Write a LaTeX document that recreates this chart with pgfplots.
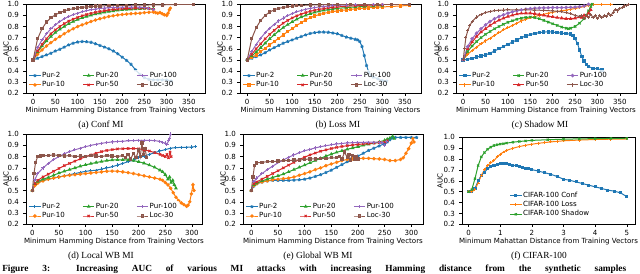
\documentclass[border=0pt]{standalone}
\usepackage{pgfplots}
\pgfplotsset{compat=1.18}
\usepackage{fontspec}
\setmainfont{DejaVu Sans}
\newfontfamily\tnr{Liberation Serif}
\definecolor{c1}{HTML}{1F77B4}
\definecolor{c2}{HTML}{FF7F0E}
\definecolor{c3}{HTML}{2CA02C}
\definecolor{c4}{HTML}{D62728}
\definecolor{c5}{HTML}{9467BD}
\definecolor{c6}{HTML}{8C564B}
\newcommand{\fs}{\fontsize{5.3}{6}\selectfont}
\pgfplotsset{
  panel/.style={
    scale only axis,
    anchor=south west,
    ymin=0.2, ymax=1.0,
    ytick={0.2,0.3,0.4,0.5,0.6,0.7,0.8,0.9,1.0},
    yticklabel style={/pgf/number format/fixed,/pgf/number format/fixed zerofill,/pgf/number format/precision=1},
    scaled ticks=false,
    /pgf/number format/assume math mode=true,
    tick label style={font=\fs},
    xticklabel style={yshift=1pt},
    label style={font=\fs},
    tick align=outside, tick pos=left,
    major tick length=1.9pt,
    every tick/.style={black, line width=0.4pt},
    axis line style={line width=0.4pt},
    xlabel={Minimum Hamming Distance from Training Vectors},
    xlabel style={yshift=5pt},
    every axis plot/.append style={line width=0.75pt, mark size=0.9pt},
    legend cell align=left,
    legend style={draw=none, fill=white, fill opacity=0.8, text opacity=1, font=\fs,
      anchor=south west, at={(rel axis cs:0.01,0.03)},
      inner sep=0.5pt, row sep=0pt,
      nodes={inner sep=0.8pt},
      /tikz/every even column/.append style={column sep=12.5pt}},
    legend image code/.code={\draw[mark repeat=2,mark phase=2,##1] plot coordinates {(0cm,0cm) (0.15cm,0cm) (0.3cm,0cm)};},
  },
  hamtop/.style={panel, width=#1, height=66.75pt, xmin=-16, xmax=386, xtick={0,50,...,350},
    legend columns=2, transpose legend},
}
\begin{document}
\begin{tikzpicture}
%% (a) Conf MI
\begin{axis}[hamtop=134.25pt, at={(19.5pt,134.8pt)}]
\addplot[c1, mark=star, mark size=1.2pt] coordinates {(0,0.5)(10,0.515)(20,0.53)(30,0.545)(40,0.56)(50,0.58)(60,0.595)(70,0.615)(80,0.635)(90,0.65)(100,0.66)(110,0.665)(120,0.663)(130,0.658)(140,0.645)(150,0.63)(160,0.615)(170,0.6)(180,0.58)(190,0.555)(200,0.525)(210,0.495)(220,0.46)(230,0.41)(240,0.37)(250,0.34)(260,0.325)(270,0.32)(280,0.32)(290,0.32)(300,0.32)(310,0.31)};
\addlegendentry{Pur-2}
\addplot[c2, mark=*] coordinates {(0,0.5)(10,0.55)(20,0.59)(30,0.625)(40,0.655)(50,0.685)(60,0.71)(70,0.735)(80,0.76)(90,0.78)(100,0.8)(110,0.815)(120,0.83)(130,0.845)(140,0.858)(150,0.87)(160,0.88)(170,0.89)(180,0.897)(190,0.903)(200,0.908)(210,0.912)(220,0.915)(230,0.918)(240,0.92)(250,0.925)(260,0.928)(270,0.93)(275,0.925)(280,0.92)(285,0.925)(290,0.915)(295,0.905)(300,0.9)(303,0.92)(306,0.95)(308,0.965)};
\addlegendentry{Pur-10}
\addplot[c3, mark=triangle*] coordinates {(0,0.5)(10,0.57)(20,0.625)(30,0.67)(40,0.71)(50,0.745)(60,0.775)(70,0.8)(80,0.825)(90,0.845)(100,0.862)(110,0.878)(120,0.89)(130,0.902)(140,0.912)(150,0.92)(160,0.928)(170,0.935)(180,0.94)(190,0.945)(200,0.95)(210,0.953)(220,0.956)(230,0.958)(240,0.96)(250,0.962)(260,0.963)(270,0.96)};
\addlegendentry{Pur-20}
\addplot[c4, mark=x, mark size=1.2pt] coordinates {(0,0.5)(10,0.58)(20,0.64)(30,0.69)(40,0.735)(50,0.77)(60,0.8)(70,0.826)(80,0.848)(90,0.866)(100,0.882)(110,0.896)(120,0.908)(130,0.918)(140,0.927)(150,0.935)(160,0.942)(170,0.948)(180,0.953)(190,0.957)(200,0.96)(210,0.962)(220,0.964)(230,0.965)(240,0.966)(250,0.965)(260,0.962)(270,0.955)};
\addlegendentry{Pur-50}
\addplot[c5, mark=+, mark size=1.2pt] coordinates {(0,0.5)(10,0.61)(20,0.68)(30,0.735)(40,0.78)(50,0.815)(60,0.845)(70,0.87)(80,0.89)(90,0.907)(100,0.92)(110,0.932)(120,0.942)(130,0.95)(140,0.957)(150,0.962)(160,0.966)(170,0.969)(180,0.971)(190,0.973)(200,0.974)(220,0.975)(240,0.974)(250,0.972)(260,0.965)(270,0.955)};
\addlegendentry{Pur-100}
\addplot[c6, mark=square*] coordinates {(0,0.5)(10,0.69)(20,0.78)(30,0.84)(40,0.88)(50,0.905)(60,0.925)(70,0.94)(80,0.952)(90,0.96)(100,0.967)(110,0.972)(120,0.976)(130,0.98)(140,0.983)(150,0.985)(170,0.988)(190,0.99)(210,0.99)(230,0.992)(250,0.993)(270,0.994)(290,0.995)(320,0.998)(360,1.0)};
\addlegendentry{Loc-30}
\end{axis}
%% (b) Loss MI
\begin{axis}[hamtop=135.75pt, at={(180pt,134.8pt)}]
\addplot[c1, mark=star, mark size=1.2pt] coordinates {(0,0.5)(10,0.515)(20,0.53)(30,0.545)(40,0.565)(50,0.59)(60,0.61)(70,0.63)(80,0.65)(90,0.665)(100,0.68)(110,0.695)(120,0.71)(130,0.725)(140,0.738)(150,0.745)(160,0.75)(170,0.75)(180,0.748)(190,0.742)(200,0.735)(210,0.72)(220,0.705)(230,0.695)(240,0.685)(245,0.68)(250,0.665)(255,0.62)(260,0.54)(265,0.45)(270,0.39)(275,0.36)(280,0.345)(290,0.33)(300,0.315)(310,0.31)};
\addlegendentry{Pur-2}
\addplot[c2, mark=square*] coordinates {(0,0.5)(10,0.52)(20,0.545)(30,0.575)(40,0.605)(50,0.635)(60,0.665)(70,0.695)(80,0.725)(90,0.755)(100,0.78)(110,0.81)(120,0.835)(130,0.86)(140,0.88)(150,0.895)(160,0.908)(170,0.918)(180,0.927)(190,0.934)(200,0.94)(210,0.945)(220,0.95)(230,0.954)(240,0.958)(250,0.962)(260,0.965)(270,0.968)(280,0.971)(290,0.974)(300,0.976)(320,0.98)(340,0.985)(360,0.99)};
\addlegendentry{Pur-10}
\addplot[c3, mark=triangle*] coordinates {(0,0.5)(10,0.535)(20,0.57)(30,0.61)(40,0.65)(50,0.69)(60,0.725)(70,0.76)(80,0.79)(90,0.817)(100,0.842)(110,0.865)(120,0.885)(130,0.9)(140,0.915)(150,0.927)(160,0.937)(170,0.945)(180,0.952)(190,0.958)(200,0.963)(220,0.97)(240,0.976)(260,0.98)(280,0.984)(300,0.988)};
\addlegendentry{Pur-20}
\addplot[c4, mark=x, mark size=1.2pt] coordinates {(0,0.5)(10,0.55)(20,0.6)(30,0.645)(40,0.69)(50,0.73)(60,0.765)(70,0.8)(80,0.83)(90,0.855)(100,0.877)(110,0.896)(120,0.912)(130,0.925)(140,0.937)(150,0.946)(160,0.954)(170,0.961)(180,0.967)(190,0.972)(200,0.976)(220,0.982)(240,0.987)(260,0.99)(280,0.993)(300,0.995)};
\addlegendentry{Pur-50}
\addplot[c5, mark=+, mark size=1.2pt] coordinates {(0,0.5)(10,0.575)(20,0.64)(30,0.695)(40,0.745)(50,0.785)(60,0.82)(70,0.85)(80,0.876)(90,0.898)(100,0.916)(110,0.932)(120,0.945)(130,0.955)(140,0.963)(150,0.97)(160,0.976)(170,0.98)(180,0.984)(190,0.987)(200,0.99)(220,0.993)(240,0.995)(260,0.997)(280,0.998)(300,0.999)};
\addlegendentry{Pur-100}
\addplot[c6, mark=square*] coordinates {(0,0.5)(10,0.69)(20,0.79)(30,0.855)(40,0.9)(50,0.93)(60,0.95)(70,0.963)(80,0.972)(90,0.978)(100,0.983)(110,0.987)(120,0.99)(140,0.993)(160,0.995)(180,0.997)(200,0.998)(230,0.999)(260,1.0)(290,1.0)(320,1.0)(360,1.0)};
\addlegendentry{Loc-30}
\end{axis}
%% (c) Shadow MI
\begin{axis}[hamtop=135pt, at={(342pt,134.8pt)}]
\addplot[c1, mark=square*] coordinates {(0,0.5)(10,0.505)(20,0.515)(30,0.525)(40,0.535)(50,0.545)(60,0.56)(70,0.58)(80,0.6)(90,0.62)(100,0.64)(110,0.66)(120,0.68)(130,0.7)(140,0.715)(150,0.728)(160,0.738)(170,0.745)(180,0.75)(190,0.752)(200,0.75)(210,0.745)(220,0.74)(230,0.736)(240,0.732)(245,0.72)(250,0.69)(255,0.65)(260,0.59)(265,0.53)(270,0.49)(275,0.46)(280,0.44)(290,0.425)(300,0.42)(310,0.41)};
\addlegendentry{Pur-2}
\addplot[c2, mark=+, mark size=1.2pt] coordinates {(0,0.5)(10,0.55)(20,0.585)(30,0.615)(40,0.645)(50,0.67)(60,0.695)(70,0.72)(80,0.745)(90,0.77)(100,0.79)(110,0.81)(120,0.83)(130,0.85)(140,0.865)(150,0.878)(160,0.89)(170,0.9)(180,0.91)(190,0.92)(200,0.928)(210,0.935)(220,0.942)(230,0.948)(240,0.955)(250,0.962)(260,0.97)(270,0.98)(280,0.99)(290,1.0)(310,1.0)(330,1.0)};
\addlegendentry{Pur-10}
\addplot[c3, mark=x, mark size=1.2pt] coordinates {(0,0.5)(10,0.575)(20,0.625)(30,0.665)(40,0.7)(50,0.73)(60,0.755)(70,0.78)(80,0.8)(90,0.82)(100,0.838)(110,0.852)(120,0.865)(130,0.875)(140,0.882)(150,0.885)(160,0.88)(170,0.87)(180,0.855)(190,0.84)(200,0.825)(210,0.81)(220,0.795)(230,0.785)(235,0.78)(240,0.785)(250,0.8)(260,0.83)(270,0.87)(275,0.9)(280,0.94)(285,0.98)(288,1.0)};
\addlegendentry{Pur-20}
\addplot[c4, mark=triangle*] coordinates {(0,0.5)(10,0.6)(20,0.66)(30,0.71)(40,0.75)(50,0.78)(60,0.81)(70,0.835)(80,0.857)(90,0.875)(100,0.89)(110,0.902)(120,0.912)(130,0.918)(140,0.92)(150,0.92)(160,0.915)(170,0.908)(180,0.9)(190,0.893)(200,0.887)(210,0.88)(220,0.875)(230,0.87)(240,0.87)(250,0.875)(260,0.885)(265,0.88)(270,0.9)(275,0.895)(280,0.92)(285,0.95)};
\addlegendentry{Pur-50}
\addplot[c5, mark=*] coordinates {(0,0.5)(10,0.62)(20,0.69)(30,0.74)(40,0.78)(50,0.815)(60,0.845)(70,0.87)(80,0.89)(90,0.905)(100,0.92)(110,0.932)(120,0.942)(130,0.95)(140,0.956)(150,0.961)(160,0.965)(170,0.967)(180,0.968)(190,0.969)(200,0.97)(210,0.97)(220,0.97)(230,0.971)(240,0.972)(250,0.974)(260,0.978)(270,0.985)(280,1.0)};
\addlegendentry{Pur-100}
\addplot[c6, mark=+, mark size=1.2pt] coordinates {(0,0.5)(3,0.6)(6,0.7)(10,0.76)(15,0.81)(20,0.845)(30,0.885)(40,0.91)(50,0.925)(60,0.935)(70,0.942)(80,0.946)(90,0.948)(100,0.95)(120,0.95)(140,0.95)(160,0.948)(180,0.945)(200,0.94)(210,0.937)(220,0.932)(230,0.925)(240,0.915)(250,0.9)(260,0.89)(265,0.9)(270,0.87)(275,0.9)(280,0.88)(285,0.91)(290,0.88)(295,0.9)(300,0.87)(305,0.9)(310,0.88)(315,0.9)(320,0.89)(325,0.92)(330,0.9)(335,0.93)(340,0.95)(345,0.94)(350,0.96)(355,0.97)(360,0.985)(365,0.99)(370,1.0)};
\addlegendentry{Loc-30}
\end{axis}
%% (d) Local WB MI
\begin{axis}[panel, width=132pt, height=67.7pt, at={(19.5pt,36.5pt)}, xmin=-12, xmax=319, xtick={0,50,...,300}, legend columns=2, transpose legend]
\addplot[c1, mark=+, mark size=1.2pt] coordinates {(0,0.5)(5,0.55)(10,0.57)(20,0.59)(30,0.6)(40,0.61)(50,0.62)(60,0.63)(70,0.64)(80,0.65)(90,0.66)(100,0.67)(110,0.675)(120,0.68)(130,0.69)(140,0.7)(150,0.71)(160,0.725)(170,0.74)(180,0.755)(190,0.77)(200,0.79)(210,0.805)(220,0.82)(230,0.835)(240,0.85)(250,0.862)(260,0.875)(270,0.88)(280,0.882)(290,0.883)(300,0.885)(307,0.89)};
\addlegendentry{Pur-2}
\addplot[c2, mark=*] coordinates {(0,0.5)(5,0.545)(10,0.565)(20,0.585)(30,0.6)(40,0.61)(50,0.62)(60,0.628)(70,0.635)(80,0.64)(90,0.645)(100,0.65)(110,0.655)(120,0.66)(130,0.665)(140,0.67)(150,0.672)(160,0.67)(170,0.665)(180,0.658)(190,0.65)(200,0.64)(210,0.63)(220,0.62)(230,0.61)(240,0.6)(245,0.59)(250,0.57)(255,0.55)(260,0.52)(265,0.48)(270,0.44)(275,0.41)(280,0.39)(285,0.375)(290,0.36)(293,0.37)(296,0.4)(299,0.47)(302,0.55)(304,0.5)};
\addlegendentry{Pur-10}
\addplot[c3, mark=triangle*] coordinates {(0,0.5)(5,0.56)(10,0.58)(20,0.6)(30,0.615)(40,0.635)(50,0.655)(60,0.67)(70,0.685)(80,0.7)(90,0.715)(100,0.727)(110,0.738)(120,0.748)(130,0.757)(140,0.765)(150,0.77)(160,0.772)(170,0.772)(180,0.77)(190,0.765)(200,0.755)(210,0.742)(220,0.725)(230,0.705)(240,0.68)(245,0.665)(250,0.64)(255,0.6)(258,0.62)(261,0.57)(264,0.59)(267,0.55)(270,0.52)};
\addlegendentry{Pur-20}
\addplot[c4, mark=x, mark size=1.2pt] coordinates {(0,0.5)(5,0.56)(10,0.59)(20,0.62)(30,0.645)(40,0.67)(50,0.695)(60,0.72)(70,0.74)(80,0.76)(90,0.78)(100,0.8)(110,0.815)(120,0.83)(130,0.845)(140,0.855)(150,0.862)(160,0.868)(170,0.87)(180,0.872)(190,0.872)(200,0.87)(210,0.86)(220,0.85)(230,0.835)(240,0.82)(245,0.81)(250,0.8)(253,0.82)(256,0.79)(259,0.84)(261,0.8)};
\addlegendentry{Pur-50}
\addplot[c5, mark=+, mark size=1.2pt] coordinates {(0,0.5)(5,0.6)(10,0.65)(20,0.7)(30,0.74)(40,0.775)(50,0.8)(60,0.825)(70,0.845)(80,0.86)(90,0.875)(100,0.888)(110,0.9)(120,0.91)(130,0.918)(140,0.925)(150,0.93)(160,0.934)(170,0.937)(180,0.94)(190,0.942)(200,0.944)(210,0.945)(220,0.944)(230,0.942)(240,0.935)(245,0.925)(250,0.92)(253,0.91)(256,0.94)(258,0.96)(260,1.0)};
\addlegendentry{Pur-100}
\addplot[c6, mark=square*] coordinates {(0,0.5)(3,0.65)(6,0.75)(10,0.8)(15,0.805)(20,0.81)(30,0.81)(40,0.815)(50,0.81)(60,0.805)(70,0.81)(80,0.8)(90,0.805)(100,0.8)(110,0.81)(120,0.805)(130,0.8)(140,0.81)(150,0.805)(160,0.8)(170,0.81)(175,0.79)(180,0.82)(185,0.78)(190,0.83)(195,0.79)(200,0.86)(203,0.8)(206,0.92)(209,0.82)(212,0.87)(215,0.79)};
\addlegendentry{Loc-30}
\end{axis}
%% (e) Global WB MI
\begin{axis}[panel, width=135pt, height=67.7pt, at={(182.25pt,36.5pt)}, xmin=-15.6, xmax=322, xtick={0,50,...,300}, legend columns=2, transpose legend]
\addplot[c1, mark=star, mark size=1.2pt] coordinates {(0,0.5)(5,0.54)(10,0.56)(20,0.575)(30,0.585)(40,0.59)(50,0.59)(60,0.59)(70,0.59)(80,0.592)(90,0.595)(100,0.6)(110,0.61)(120,0.625)(130,0.64)(140,0.66)(150,0.68)(160,0.705)(170,0.73)(180,0.755)(190,0.78)(200,0.805)(210,0.83)(220,0.855)(230,0.875)(240,0.895)(250,0.915)(255,0.93)(260,0.95)(265,0.965)(270,0.97)(280,0.97)(290,0.97)(300,0.97)(310,0.97)};
\addlegendentry{Pur-2}
\addplot[c2, mark=*] coordinates {(0,0.5)(5,0.545)(10,0.56)(20,0.575)(30,0.585)(40,0.595)(50,0.6)(60,0.605)(70,0.61)(80,0.62)(90,0.635)(100,0.65)(110,0.665)(120,0.685)(130,0.7)(140,0.72)(150,0.735)(160,0.75)(170,0.765)(180,0.775)(190,0.78)(200,0.782)(210,0.785)(220,0.785)(230,0.782)(240,0.78)(250,0.775)(260,0.765)(270,0.765)(280,0.775)(285,0.79)(290,0.83)(295,0.87)(300,0.92)(303,0.96)(305,0.93)};
\addlegendentry{Pur-10}
\addplot[c3, mark=triangle*] coordinates {(0,0.5)(5,0.55)(10,0.565)(20,0.585)(30,0.6)(40,0.615)(50,0.63)(60,0.645)(70,0.665)(80,0.685)(90,0.705)(100,0.725)(110,0.745)(120,0.765)(130,0.785)(140,0.805)(150,0.822)(160,0.838)(170,0.852)(180,0.865)(190,0.877)(200,0.888)(210,0.9)(220,0.91)(230,0.92)(240,0.93)(250,0.945)(255,0.955)(260,0.965)(265,0.98)(268,0.96)};
\addlegendentry{Pur-20}
\addplot[c4, mark=x, mark size=1.2pt] coordinates {(0,0.5)(5,0.56)(10,0.575)(20,0.6)(30,0.625)(40,0.65)(50,0.675)(60,0.7)(70,0.725)(80,0.75)(90,0.775)(100,0.795)(110,0.815)(120,0.832)(130,0.848)(140,0.86)(150,0.872)(160,0.882)(170,0.89)(180,0.897)(190,0.903)(200,0.908)(210,0.912)(220,0.916)(230,0.92)(240,0.925)(250,0.93)(255,0.94)};
\addlegendentry{Pur-50}
\addplot[c5, mark=+, mark size=1.2pt] coordinates {(0,0.5)(5,0.58)(10,0.61)(20,0.65)(30,0.685)(40,0.715)(50,0.745)(60,0.77)(70,0.795)(80,0.815)(90,0.835)(100,0.852)(110,0.865)(120,0.877)(130,0.888)(140,0.897)(150,0.905)(160,0.912)(170,0.917)(180,0.921)(190,0.924)(200,0.926)(210,0.927)(220,0.928)(230,0.928)(240,0.928)(245,0.925)(250,0.9)(253,0.93)};
\addlegendentry{Pur-100}
\addplot[c6, mark=square*] coordinates {(0,0.5)(3,0.62)(6,0.72)(10,0.745)(20,0.75)(30,0.755)(40,0.755)(50,0.76)(60,0.765)(70,0.765)(80,0.77)(90,0.77)(100,0.775)(110,0.78)(120,0.78)(130,0.785)(140,0.785)(150,0.79)(160,0.79)(165,0.8)(170,0.78)(175,0.84)(180,0.79)(183,0.82)(186,0.77)(190,0.81)(193,0.78)(196,0.8)(200,0.78)};
\addlegendentry{Loc-30}
\end{axis}
%% (f) CIFAR-100
\begin{axis}[panel, width=129.75pt, height=65.25pt, at={(346.5pt,36.5pt)}, xmin=-0.21, xmax=5.26, xtick={0,1,2,3,4,5},
  xlabel={Minimum Mahattan Distance from Training Vectors},
  legend style={at={(rel axis cs:0.27,0.05)}}]
\addplot[c1, mark=square*, mark size=0.8pt] coordinates {(0,0.5)(0.1,0.5)(0.2,0.53)(0.3,0.6)(0.4,0.65)(0.5,0.68)(0.6,0.71)(0.7,0.73)(0.8,0.745)(0.9,0.752)(1.0,0.756)(1.1,0.758)(1.2,0.757)(1.3,0.752)(1.4,0.745)(1.5,0.738)(1.6,0.73)(1.7,0.723)(1.8,0.716)(1.9,0.71)(2.0,0.703)(2.2,0.69)(2.4,0.675)(2.6,0.66)(2.8,0.64)(3.0,0.615)(3.2,0.605)(3.4,0.59)(3.6,0.575)(3.8,0.56)(4.0,0.545)(4.2,0.53)(4.4,0.515)(4.6,0.505)(4.8,0.49)(5.0,0.455)};
\addlegendentry{CIFAR-100 Conf}
\addplot[c2, mark=+, mark size=1.1pt] coordinates {(0,0.5)(0.1,0.5)(0.2,0.52)(0.3,0.58)(0.4,0.65)(0.5,0.7)(0.6,0.74)(0.7,0.765)(0.8,0.785)(0.9,0.82)(1.0,0.845)(1.1,0.865)(1.2,0.88)(1.4,0.9)(1.6,0.915)(1.8,0.927)(2.0,0.937)(2.2,0.945)(2.4,0.952)(2.6,0.958)(2.8,0.963)(3.0,0.968)(3.5,0.975)(4.0,0.98)(4.5,0.983)(5.0,0.985)};
\addlegendentry{CIFAR-100 Loss}
\addplot[c3, mark=x, mark size=1.1pt] coordinates {(0,0.5)(0.1,0.52)(0.2,0.62)(0.3,0.74)(0.4,0.82)(0.5,0.86)(0.6,0.89)(0.7,0.91)(0.8,0.925)(0.9,0.932)(1.0,0.938)(1.1,0.942)(1.2,0.947)(1.4,0.955)(1.6,0.962)(1.8,0.967)(2.0,0.972)(2.5,0.978)(3.0,0.983)(3.5,0.986)(4.0,0.988)(4.5,0.99)(5.0,0.99)};
\addlegendentry{CIFAR-100 Shadow}
\end{axis}
%% y labels
\foreach \xx/\yy in {4.5pt/168.3pt, 165pt/168.3pt, 327.75pt/168.3pt, 4.5pt/70.4pt, 167.25pt/70.4pt, 330pt/69.15pt}
  \node[rotate=90, font=\fs, inner sep=0pt] at (\xx,\yy) {AUC};
%% captions
\node[font=\tnr\fontsize{7}{8}\selectfont] at (75.75pt,110.9pt) {(a) Conf MI};
\node[font=\tnr\fontsize{7}{8}\selectfont] at (253.5pt,110.9pt) {(b) Loss MI};
\node[font=\tnr\fontsize{7}{8}\selectfont] at (405pt,110.9pt) {(c) Shadow MI};
\node[font=\tnr\fontsize{7}{8}\selectfont] at (75.75pt,12.75pt) {(d) Local WB MI};
\node[font=\tnr\fontsize{7}{8}\selectfont] at (238.5pt,12.75pt) {(e) Global WB MI};
\node[font=\tnr\fontsize{7}{8}\selectfont] at (404.25pt,12.75pt) {(f) CIFAR-100};
\node[anchor=base west, inner sep=0pt, font=\tnr\bfseries\fontsize{7}{8}\selectfont] at (1.5pt,1.5pt) {\makebox[468pt][s]{Figure 3: Increasing AUC of various MI attacks with increasing Hamming distance from the synthetic samples}};
\pgfresetboundingbox
\useasboundingbox (0pt,0pt) rectangle (480pt,204.75pt);
\end{tikzpicture}
\end{document}
